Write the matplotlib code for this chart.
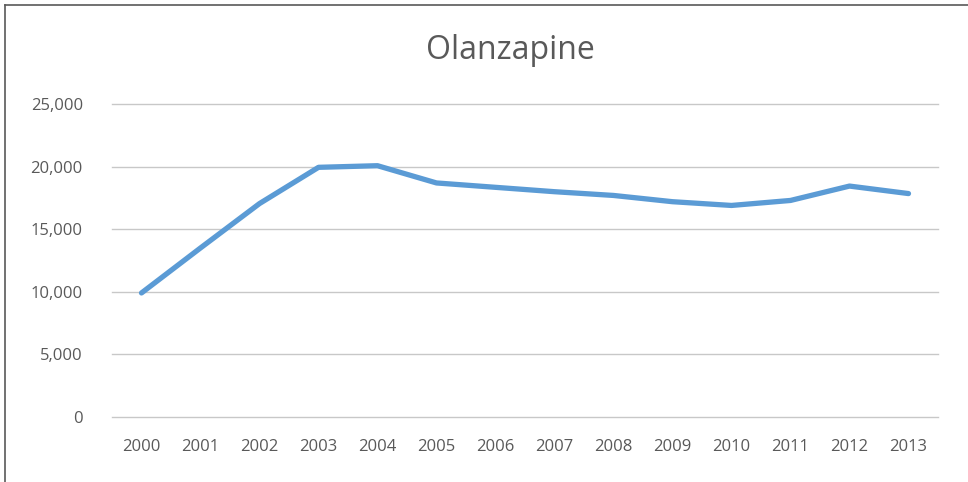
import matplotlib
matplotlib.use('Agg')
import matplotlib.pyplot as plt
from matplotlib.ticker import FuncFormatter

# Data
years = ['2000', '2001', '2002', '2003', '2004', '2005', '2006',
         '2007', '2008', '2009', '2010', '2011', '2012', '2013']
values = [9900, 13500, 17050, 19950, 20080, 18700, 18350,
          18000, 17700, 17200, 16900, 17300, 18450, 17850]
y_ticks = [0, 5000, 10000, 15000, 20000, 25000]

plt.rcParams['font.family'] = ['Open Sans', 'DejaVu Sans']

fig = plt.figure(figsize=(9.68, 4.82), dpi=100)
ax = fig.add_axes([112 / 968, 65.3 / 482, 826 / 968, 312.5 / 482])

x = range(len(years))
ax.plot(x, values, color='#5B9BD5', linewidth=3.8,
        solid_joinstyle='round', solid_capstyle='round', zorder=3)

ax.set_xlim(-0.5, len(years) - 0.5)
ax.set_ylim(0, 25000)
ax.set_yticks(y_ticks)
ax.yaxis.set_major_formatter(FuncFormatter(lambda v, p: f"{int(v):,}"))
ax.set_xticks(list(x))
ax.set_xticklabels(years)

ax.grid(axis='y', color='#C8C8C8', linewidth=1.0)
for gl in ax.get_ygridlines():
    gl.set_clip_on(False)
ax.set_axisbelow(True)
for s in ax.spines.values():
    s.set_visible(False)
ax.tick_params(axis='both', length=0, labelsize=12, colors='#595959')
ax.tick_params(axis='y', pad=21)
ax.tick_params(axis='x', pad=16)

fig.text(0.527, 0.895, 'Olanzapine', ha='center', va='center',
         fontsize=23, color='#595959')

# thin border on the left and top edges, as in the screenshot
fig.add_artist(plt.Line2D([4.5 / 968, 4.5 / 968], [0, 1 - 4.5 / 482],
                          color='#595959', linewidth=1.2))
fig.add_artist(plt.Line2D([4.5 / 968, 1], [1 - 4.5 / 482, 1 - 4.5 / 482],
                          color='#595959', linewidth=1.2))

fig.savefig('out.png', dpi=100)
